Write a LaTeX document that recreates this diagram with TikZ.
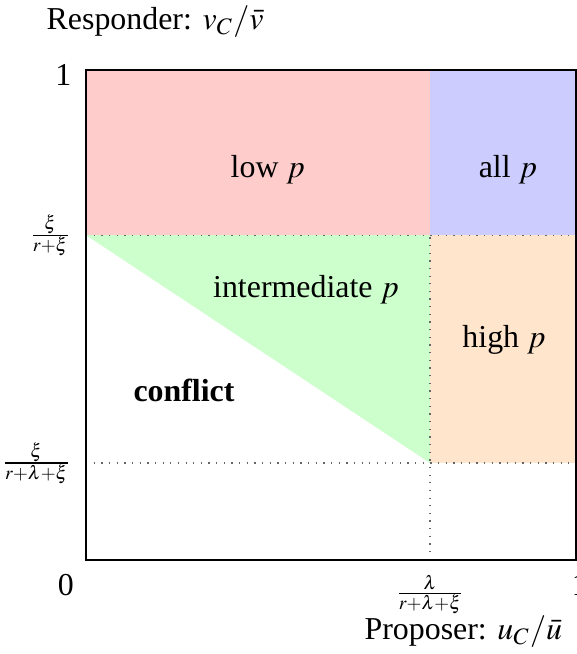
\documentclass[tikz,border=0pt]{standalone}
\usepackage{mathptmx}
\usepackage{fontspec}
\setmainfont{Liberation Serif}
\usetikzlibrary{positioning}

\begin{document}
\begin{tikzpicture}[x=5.4cm, y=5.4cm,
    guide/.style={dotted, gray!80!black, line width=0.4pt},
    ticklabel/.style={inner sep=0pt},
    fraclabel/.style={ticklabel, font=\footnotesize}]

    \useasboundingbox (-0.1755,-0.1918) rectangle (1.0,1.1429);

    % --- 1. Coloured regions ---
    \fill [red!20] (0,0.663) rectangle (0.702,1);
    \fill [blue!20] (0.702,0.663) rectangle (1,1);
    \fill [orange!20] (0.702,0.198) rectangle (1,0.663);
    \fill [green!20] (0,0.663) -- (0.702,0.663) -- (0.702,0.198) -- cycle;

    % --- 2. Threshold lines (dotted) ---
    \draw [guide] (0,0.663) -- (1,0.663);
    \draw [guide] (0,0.198) -- (1,0.198);
    \draw [guide] (0.702,0) -- (0.702,0.663);

    % --- 3. Axis frame ---
    \draw [line width=0.5pt] (0,0) rectangle (1,1);

    % --- 4. Tick labels ---
    \node [ticklabel, anchor=east] (yone) at (-0.0286,0.99) {1};
    \node [fraclabel, anchor=east] (yhigh) at (-0.0286,0.663) {$\frac{\xi}{r+\xi}$};
    \node [fraclabel, anchor=east] (ylow) at (-0.0286,0.198) {$\frac{\xi}{r+\lambda+\xi}$};
    \node [ticklabel] (origin) at (-0.041,-0.051) {0};
    \node [fraclabel] (xmid) at (0.702,-0.071) {$\frac{\lambda}{r+\lambda+\xi}$};
    \node [ticklabel] (xone) at (1.008,-0.051) {1};

    % --- 5. Axis titles ---
    \node (ytitle) at (0.141,1.098) {Responder: $v_C/\bar{v}$};
    \node (xtitle) at (0.770,-0.147) {Proposer: $u_C/\bar{u}$};

    % --- 6. Region labels ---
    \node (lowp) at (0.371,0.796) {low $p$};
    \node (allp) at (0.861,0.796) {all $p$};
    \node (midp) at (0.449,0.551) {intermediate $p$};
    \node (highp) at (0.853,0.449) {high $p$};
    \node [font=\bfseries] (conflict) at (0.2,0.347) {conflict};

\end{tikzpicture}
\end{document}
